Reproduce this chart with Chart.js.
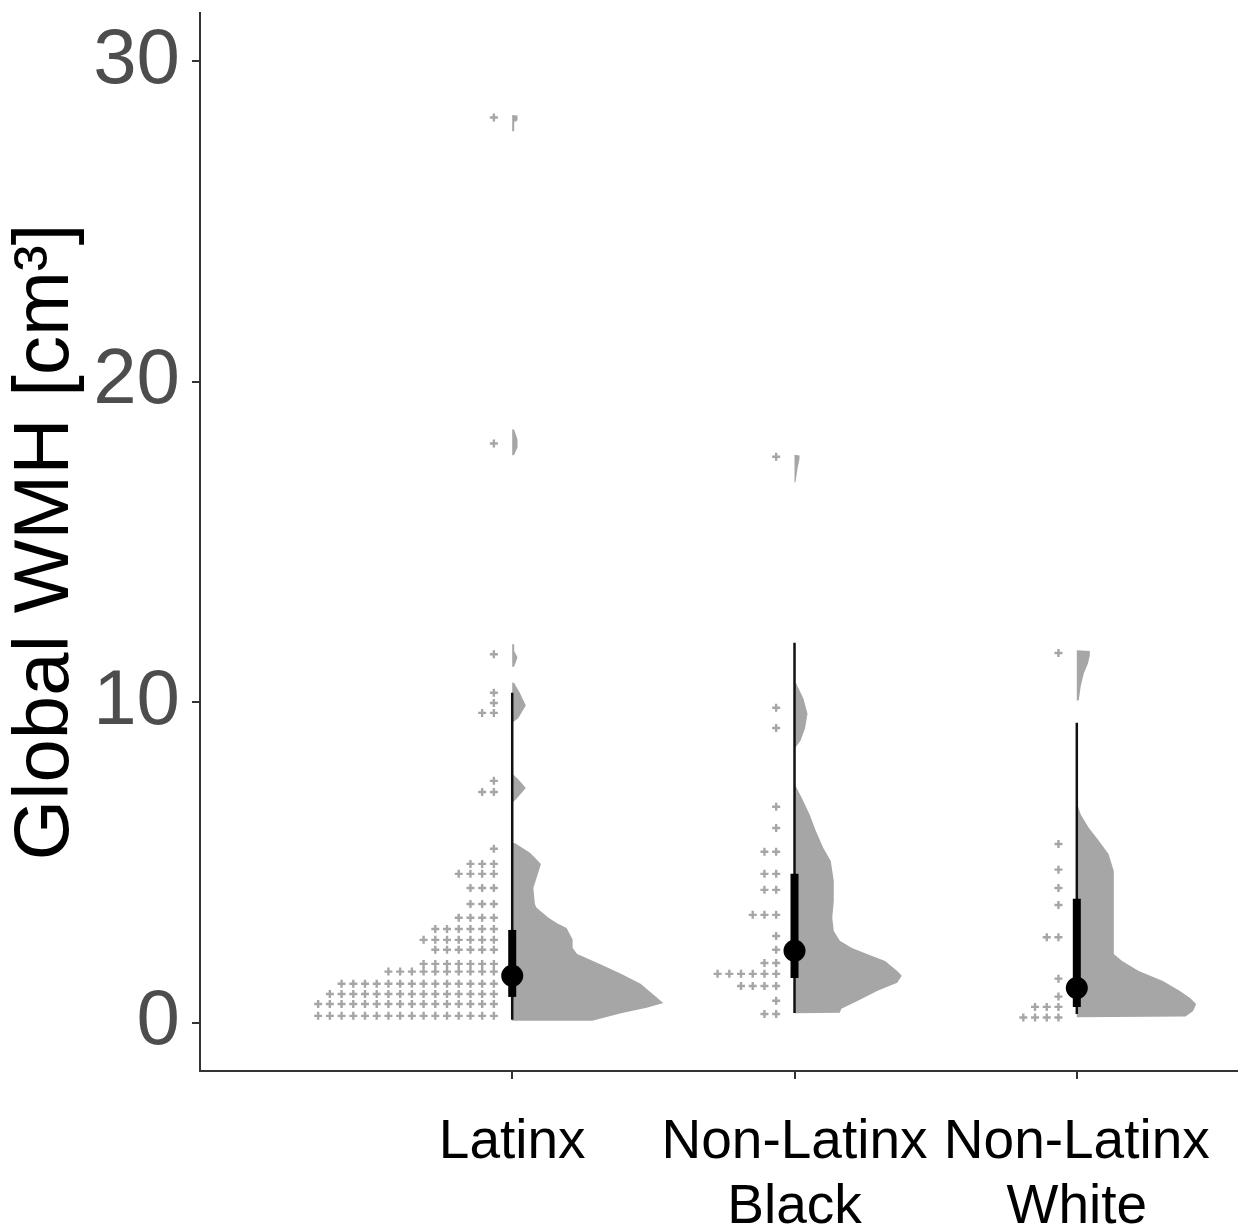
<!DOCTYPE html>
<html>
<head>
<meta charset="utf-8">
<title>Global WMH by ethnicity</title>
<script src="https://cdn.jsdelivr.net/npm/chart.js@4.4.1/dist/chart.umd.min.js"></script>
<style>
  html, body { margin: 0; padding: 0; background: #fff; }
  #wrap { width: 1238px; height: 1230px; }
</style>
</head>
<body>
<div id="wrap"><canvas id="wmh" width="1238" height="1230"></canvas></div>
<script>
const groups = [['Latinx'], ['Non-Latinx', 'Black'], ['Non-Latinx', 'White']]
const yTicks = [0, 10, 20, 30]

// median + 66% / 95% intervals per group
const medians = [1.47, 2.25, 1.09]
const inner = [[0.81, 2.9], [1.4, 4.65], [0.5, 3.87]]
const outer = [[0.1, 10.3], [0.31, 11.86], [0.28, 9.36]]

// dot stacks (row value, number of dots in row)
const latinxRows = [0.22, 0.59, 0.9, 1.22, 1.6, 1.84, 2.28, 2.59, 2.93, 3.28, 3.71, 4.21, 4.65, 4.96, 5.43, 7.2, 7.55, 9.67, 9.98, 10.3, 11.5, 18.07, 28.24]
const latinxCounts = [16, 16, 15, 14, 10, 7, 6, 7, 6, 4, 3, 3, 4, 3, 1, 2, 1, 2, 1, 1, 1, 1, 1]
const blackRows = [0.28, 0.69, 1.15, 1.53, 1.87, 2.28, 2.71, 3.37, 4.15, 4.65, 5.34, 6.08, 6.74, 9.2, 9.83, 17.66]
const blackCounts = [2, 1, 4, 6, 2, 1, 1, 3, 2, 2, 2, 1, 1, 1, 1, 1]
const whiteRows = [0.17, 0.5, 0.82, 1.38, 2.67, 3.68, 4.21, 4.78, 5.58, 11.54]
const whiteCounts = [4, 3, 1, 1, 2, 1, 1, 1, 1, 1]

// half violin outlines (value, relative density)
const latinxDensY = [0.07, 0.3, 0.47, 0.62, 0.9, 1.22, 1.53, 1.84, 2.15, 2.34, 2.6, 2.96, 3.1, 3.28, 3.6, 3.71, 4.21, 4.65, 4.96, 5.3, 5.6, 5.62,
  6.86, 7.0, 7.33, 7.6, 7.77, 9.36, 9.5, 9.9, 10.3, 10.6, 10.62, 11.1, 11.12, 11.4, 11.6, 11.8, 11.82,
  17.7, 17.72, 17.95, 18.2, 18.5, 18.52, 27.8, 27.82, 28.1, 28.15, 28.3, 28.32]
const latinxDens = [0.53, 0.72, 0.89, 1.0, 0.93, 0.85, 0.72, 0.58, 0.43, 0.40, 0.40, 0.36, 0.30, 0.24, 0.16, 0.15, 0.14, 0.17, 0.19, 0.12, 0.02, 0,
  0, 0.03, 0.09, 0.04, 0, 0, 0.04, 0.09, 0.05, 0.013, 0, 0, 0.013, 0.035, 0.013, 0.013, 0,
  0, 0.013, 0.035, 0.035, 0.013, 0, 0, 0.013, 0.013, 0.035, 0.035, 0]
const blackDensY = [0.3, 0.32, 0.44, 0.69, 1.0, 1.25, 1.47, 1.62, 1.93, 2.15, 2.34, 2.56, 2.87, 3.28, 3.8, 4.43, 5.05, 5.46, 6.0, 6.5, 7.0, 7.46,
  8.55, 8.8, 9.2, 9.64, 10.1, 10.4, 10.6, 10.62, 16.85, 16.87, 17.3, 17.6, 17.7, 17.72]
const blackDens = [0, 0.30, 0.31, 0.42, 0.55, 0.68, 0.71, 0.68, 0.60, 0.48, 0.38, 0.30, 0.26, 0.25, 0.26, 0.26, 0.24, 0.19, 0.14, 0.10, 0.05, 0,
  0, 0.04, 0.07, 0.086, 0.06, 0.03, 0.01, 0, 0, 0.007, 0.02, 0.033, 0.033, 0]
const whiteDensY = [0.18, 0.2, 0.37, 0.59, 0.78, 1.0, 1.31, 1.62, 1.93, 2.15, 3.0, 4.0, 4.74, 5.27, 5.68, 6.08, 6.5, 6.86,
  10.05, 10.07, 10.5, 10.9, 11.2, 11.45, 11.6, 11.62]
const whiteDens = [0, 0.72, 0.77, 0.79, 0.75, 0.68, 0.57, 0.41, 0.30, 0.245, 0.245, 0.245, 0.245, 0.21, 0.146, 0.08, 0.026, 0,
  0, 0.013, 0.026, 0.046, 0.073, 0.086, 0.086, 0]

const VIOLIN_SCALE = 0.535   // density 1 -> x units
const DOT_GAP = 0.065        // space between interval line and first dot column
const DOT_STEP = 0.0415      // spacing of dot columns

const rows = [latinxRows, blackRows, whiteRows]
const counts = [latinxCounts, blackCounts, whiteCounts]
const densY = [latinxDensY, blackDensY, whiteDensY]
const dens = [latinxDens, blackDens, whiteDens]

const FONT = 'Arial, "Liberation Sans", Helvetica, sans-serif'

const datasets = []
groups.forEach((g, i) => {
  const pos = i + 1

  // violin polygon
  const ys = densY[i]
  const outline = [{x: pos, y: ys[0]}]
  ys.forEach((y, j) => outline.push({x: pos + dens[i][j] * VIOLIN_SCALE, y: y}))
  outline.push({x: pos, y: ys[ys.length - 1]})
  outline.push({x: pos, y: ys[0]})
  datasets.push({
    data: outline, showLine: true, fill: 'shape', tension: 0,
    backgroundColor: '#a6a6a6', borderWidth: 0, pointRadius: 0, order: 5
  })

  // stacked dots
  const pts = []
  rows[i].forEach((y, r) => {
    for (let k = 0; k < counts[i][r]; k++) pts.push({x: pos - DOT_GAP - k * DOT_STEP, y: y})
  })
  datasets.push({
    data: pts, pointStyle: 'cross', pointRadius: 4, borderWidth: 2.4,
    borderColor: '#a6a6a6', backgroundColor: '#a6a6a6', order: 4
  })

  // intervals
  datasets.push({
    data: [{x: pos, y: outer[i][0]}, {x: pos, y: outer[i][1]}], showLine: true,
    borderColor: '#111', borderWidth: 2.5, pointRadius: 0, borderCapStyle: 'butt', order: 3
  })
  datasets.push({
    data: [{x: pos, y: inner[i][0]}, {x: pos, y: inner[i][1]}], showLine: true,
    borderColor: '#000', borderWidth: 8, pointRadius: 0, borderCapStyle: 'butt', order: 2
  })
  datasets.push({
    data: [{x: pos, y: medians[i]}], pointRadius: 11, pointStyle: 'circle',
    backgroundColor: '#000', borderWidth: 0, order: 1
  })
})

new Chart(document.getElementById('wmh'), {
  type: 'scatter',
  data: { datasets: datasets },
  options: {
    responsive: false,
    animation: false,
    devicePixelRatio: 1,
    layout: { autoPadding: false, padding: { top: 13, right: 0, left: 0, bottom: 0 } },
    plugins: { legend: { display: false }, tooltip: { enabled: false } },
    scales: {
      x: {
        type: 'linear', min: -0.106, max: 3.571,
        afterBuildTicks: (s) => { s.ticks = [1, 2, 3].map(v => ({value: v})) },
        afterFit: (s) => { s.height = 159; s.paddingLeft = 0; s.paddingRight = 0 },
        border: { display: true, color: '#333', width: 2 },
        grid: { display: true, drawOnChartArea: false, drawTicks: true, tickLength: 8, color: '#333', lineWidth: 2 },
        ticks: {
          autoSkip: false, maxRotation: 0, minRotation: 0, padding: 31, color: '#000',
          font: { family: FONT, size: 55, lineHeight: 1.18 },
          callback: (v) => groups[Math.round(v) - 1] || ''
        }
      },
      y: {
        min: -1.5, max: 31.5,
        afterBuildTicks: (s) => { s.ticks = yTicks.map(v => ({value: v})) },
        afterFit: (s) => { s.width = 200; s.paddingTop = 0; s.paddingBottom = 0 },
        border: { display: true, color: '#333', width: 2 },
        grid: { display: true, drawOnChartArea: false, drawTicks: true, tickLength: 8, color: '#333', lineWidth: 2 },
        ticks: { padding: 12, color: '#4d4d4d', font: { family: FONT, size: 78 } },
        title: {
          display: true, text: 'Global WMH [cm³]', color: '#000',
          padding: { top: 0, bottom: 0 },
          font: { family: FONT, size: 78 }
        }
      }
    }
  }
})
</script>
</body>
</html>
